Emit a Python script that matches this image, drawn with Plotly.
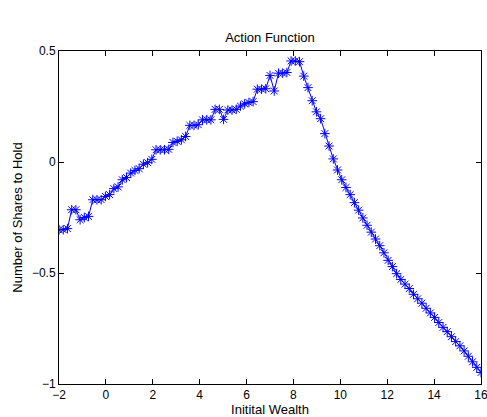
import plotly.graph_objects as go

wealth = [-2.00, -1.82, -1.64, -1.46, -1.28, -1.10, -0.92, -0.74, -0.56, -0.38,
          -0.20, -0.02, 0.16, 0.34, 0.52, 0.70, 0.88, 1.06, 1.24, 1.42,
          1.60, 1.78, 1.96, 2.14, 2.32, 2.50, 2.68, 2.86, 3.04, 3.22,
          3.40, 3.58, 3.76, 3.94, 4.12, 4.30, 4.48, 4.66, 4.84, 5.02,
          5.20, 5.38, 5.56, 5.74, 5.92, 6.10, 6.28, 6.46, 6.64, 6.82,
          7.00, 7.18, 7.36, 7.54, 7.72, 7.90, 8.08, 8.26, 8.44, 8.62,
          8.80, 8.98, 9.16, 9.34, 9.52, 9.70, 9.88, 10.06, 10.24, 10.42,
          10.60, 10.78, 10.96, 11.14, 11.32, 11.50, 11.68, 11.86, 12.04, 12.22,
          12.40, 12.58, 12.76, 12.94, 13.12, 13.30, 13.48, 13.66, 13.84, 14.02,
          14.20, 14.38, 14.56, 14.74, 14.92, 15.10, 15.28, 15.46, 15.64, 15.82,
          16.00]

shares = [-0.305, -0.305, -0.300, -0.215, -0.215, -0.260, -0.250, -0.245, -0.170, -0.170,
          -0.170, -0.155, -0.147, -0.120, -0.112, -0.080, -0.070, -0.050, -0.038, -0.030,
          -0.010, -0.003, 0.012, 0.055, 0.055, 0.055, 0.057, 0.088, 0.093, 0.100,
          0.115, 0.165, 0.165, 0.168, 0.190, 0.190, 0.190, 0.237, 0.237, 0.192,
          0.234, 0.234, 0.237, 0.252, 0.262, 0.268, 0.272, 0.328, 0.328, 0.330,
          0.390, 0.320, 0.400, 0.400, 0.403, 0.455, 0.455, 0.452, 0.387, 0.335,
          0.276, 0.226, 0.195, 0.128, 0.072, 0.014, -0.036, -0.080, -0.115, -0.147,
          -0.183, -0.217, -0.252, -0.285, -0.316, -0.347, -0.377, -0.409, -0.443, -0.471,
          -0.503, -0.529, -0.550, -0.570, -0.596, -0.616, -0.636, -0.659, -0.680, -0.700,
          -0.723, -0.745, -0.764, -0.787, -0.809, -0.828, -0.851, -0.875, -0.900, -0.925,
          -0.948]

x_ticks = [-2, 0, 2, 4, 6, 8, 10, 12, 14, 16]
x_tick_labels = ["\u22122", "0", "2", "4", "6", "8", "10", "12", "14", "16"]
y_ticks = [-1, -0.5, 0, 0.5]
y_tick_labels = ["\u22121", "\u22120.5", "0", "0.5"]

family = "Liberation Sans, Arial, sans-serif"
tick_font = dict(family=family, size=12, color="#000000")
title_font = dict(family=family, size=13, color="#000000")

fig = go.Figure()
fig.add_trace(go.Scatter(
    x=wealth, y=shares, mode="lines+markers",
    line=dict(color="#0000ff", width=1),
    marker=dict(symbol="asterisk-open", size=8, color="#0000ff",
                line=dict(color="#0000ff", width=1)),
    showlegend=False,
))

axis_common = dict(
    showgrid=False, zeroline=False, showline=True, linecolor="#000000", linewidth=1,
    mirror="allticks", ticks="inside", ticklen=5, tickcolor="#000000", tickwidth=1,
    tickfont=tick_font, automargin=False, ticklabeloverflow="allow",
)

fig.update_layout(
    width=487, height=417,
    margin=dict(l=59, r=6, t=51, b=33, autoexpand=False),
    paper_bgcolor="#ffffff", plot_bgcolor="#ffffff",
    font=tick_font,
    title=dict(text="Action Function", x=0.5, xref="paper", xanchor="center",
               y=1, yref="paper", yanchor="bottom", pad=dict(b=9), font=title_font),
    xaxis=dict(range=[-2, 16], tickvals=x_ticks, ticktext=x_tick_labels,
               title=dict(text="Initital Wealth", font=title_font, standoff=2), **axis_common),
    yaxis=dict(range=[-1, 0.5], tickvals=y_ticks, ticktext=y_tick_labels,
               title=dict(text="Number of Shares to Hold", font=title_font, standoff=6), **axis_common),
)

# remove the default page margin so the 487x417 figure fills the window exactly
fig.write_html("out.html",
               config={"displayModeBar": False},
               post_script="document.body.style.margin='0';document.body.style.overflow='hidden';")
